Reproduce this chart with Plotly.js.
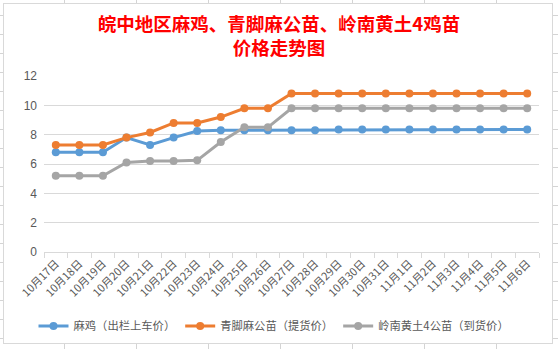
<!DOCTYPE html>
<html>
<head>
<meta charset="utf-8">
<script src="https://cdn.plot.ly/plotly-3.0.1.min.js"></script>
<style>
html,body{margin:0;padding:0;width:558px;height:349px;overflow:hidden;}
body{
  background-color:#ffffff;
  background-image:
    repeating-linear-gradient(to right, transparent 0px, transparent 64px, #d4d4d4 64px, #d4d4d4 65px, transparent 65px, transparent 72px),
    repeating-linear-gradient(to bottom, transparent 0px, transparent 15px, #d4d4d4 15px, #d4d4d4 16px, transparent 16px, transparent 19px);
}
#frame{position:absolute;left:3px;top:3px;width:550px;height:341px;background:#fff;border:1px solid #d9d9d9;box-sizing:border-box;}
#chart{position:absolute;left:0;top:0;width:558px;height:349px;}
</style>
</head>
<body>
<div id="frame"></div>
<div id="chart"></div>
<script>
const categories = ["10月17日","10月18日","10月19日","10月20日","10月21日","10月22日","10月23日","10月24日","10月25日","10月26日","10月27日","10月28日","10月29日","10月30日","10月31日","11月1日","11月2日","11月3日","11月4日","11月5日","11月6日"];
const maji = [6.8,6.8,6.8,7.8,7.3,7.8,8.25,8.3,8.3,8.3,8.3,8.3,8.35,8.35,8.35,8.35,8.35,8.35,8.35,8.35,8.35];
const qingjiao = [7.3,7.3,7.3,7.8,8.15,8.8,8.8,9.2,9.8,9.8,10.8,10.8,10.8,10.8,10.8,10.8,10.8,10.8,10.8,10.8,10.8];
const lingnan = [5.2,5.2,5.2,6.1,6.2,6.2,6.25,7.5,8.5,8.5,9.8,9.8,9.8,9.8,9.8,9.8,9.8,9.8,9.8,9.8,9.8];
const seriesNames = ["麻鸡（出栏上车价）","青脚麻公苗（提货价）","岭南黄土4公苗（到货价）"];
const yTicks = [0,2,4,6,8,10,12];

const colors = ["#5B9BD5","#ED7D31","#A5A5A5"];
const allSeries = [maji, qingjiao, lingnan];
const traces = allSeries.map((vals,i)=>({
  type:"scatter",
  mode:"lines+markers",
  x:categories,
  y:vals,
  name:seriesNames[i],
  line:{color:colors[i],width:3},
  marker:{color:colors[i],size:8},
  hoverinfo:"skip"
}));

const layout = {
  width:558,
  height:349,
  paper_bgcolor:"rgba(0,0,0,0)",
  plot_bgcolor:"rgba(0,0,0,0)",
  margin:{l:44,r:19,t:76,b:97},
  font:{family:"Noto Sans CJK SC, sans-serif",color:"#595959"},
  title:{
    text:"<b>皖中地区麻鸡、青脚麻公苗、岭南黄土4鸡苗<br>价格走势图</b>",
    font:{family:"Noto Sans CJK SC",size:18.5,color:"#FF0000"},
    x:0.5,xref:"container",xanchor:"center",
    y:1-31/349,yref:"container",yanchor:"middle"
  },
  xaxis:{
    type:"category",
    range:[-0.5,categories.length-0.5],
    tickson:"boundaries",
    ticks:"outside",
    ticklen:5,
    tickcolor:"#d9d9d9",
    showline:true,
    linecolor:"#d9d9d9",
    linewidth:1,
    showgrid:false,
    tickangle:-45,
    tickfont:{family:"Noto Sans CJK SC",size:11,color:"#595959"},
    fixedrange:true
  },
  yaxis:{
    range:[0,12],
    tickvals:yTicks,
    ticktext:yTicks.map(String),
    showgrid:true,
    gridcolor:"#d9d9d9",
    gridwidth:1,
    zeroline:false,
    showline:false,
    ticks:"",
    ticklabelstandoff:6,
    tickfont:{family:"Liberation Sans",size:12,color:"#595959"},
    fixedrange:true
  },
  showlegend:true,
  legend:{
    orientation:"h",
    xref:"container",yref:"container",
    x:274/558,xanchor:"center",
    y:1-326/349,yanchor:"middle",
    font:{family:"Noto Sans CJK SC",size:11.3,color:"#595959"},
    itemwidth:30,
    bgcolor:"rgba(0,0,0,0)"
  }
};

Plotly.newPlot("chart",traces,layout,{displayModeBar:false,staticPlot:true});
</script>
</body>
</html>
